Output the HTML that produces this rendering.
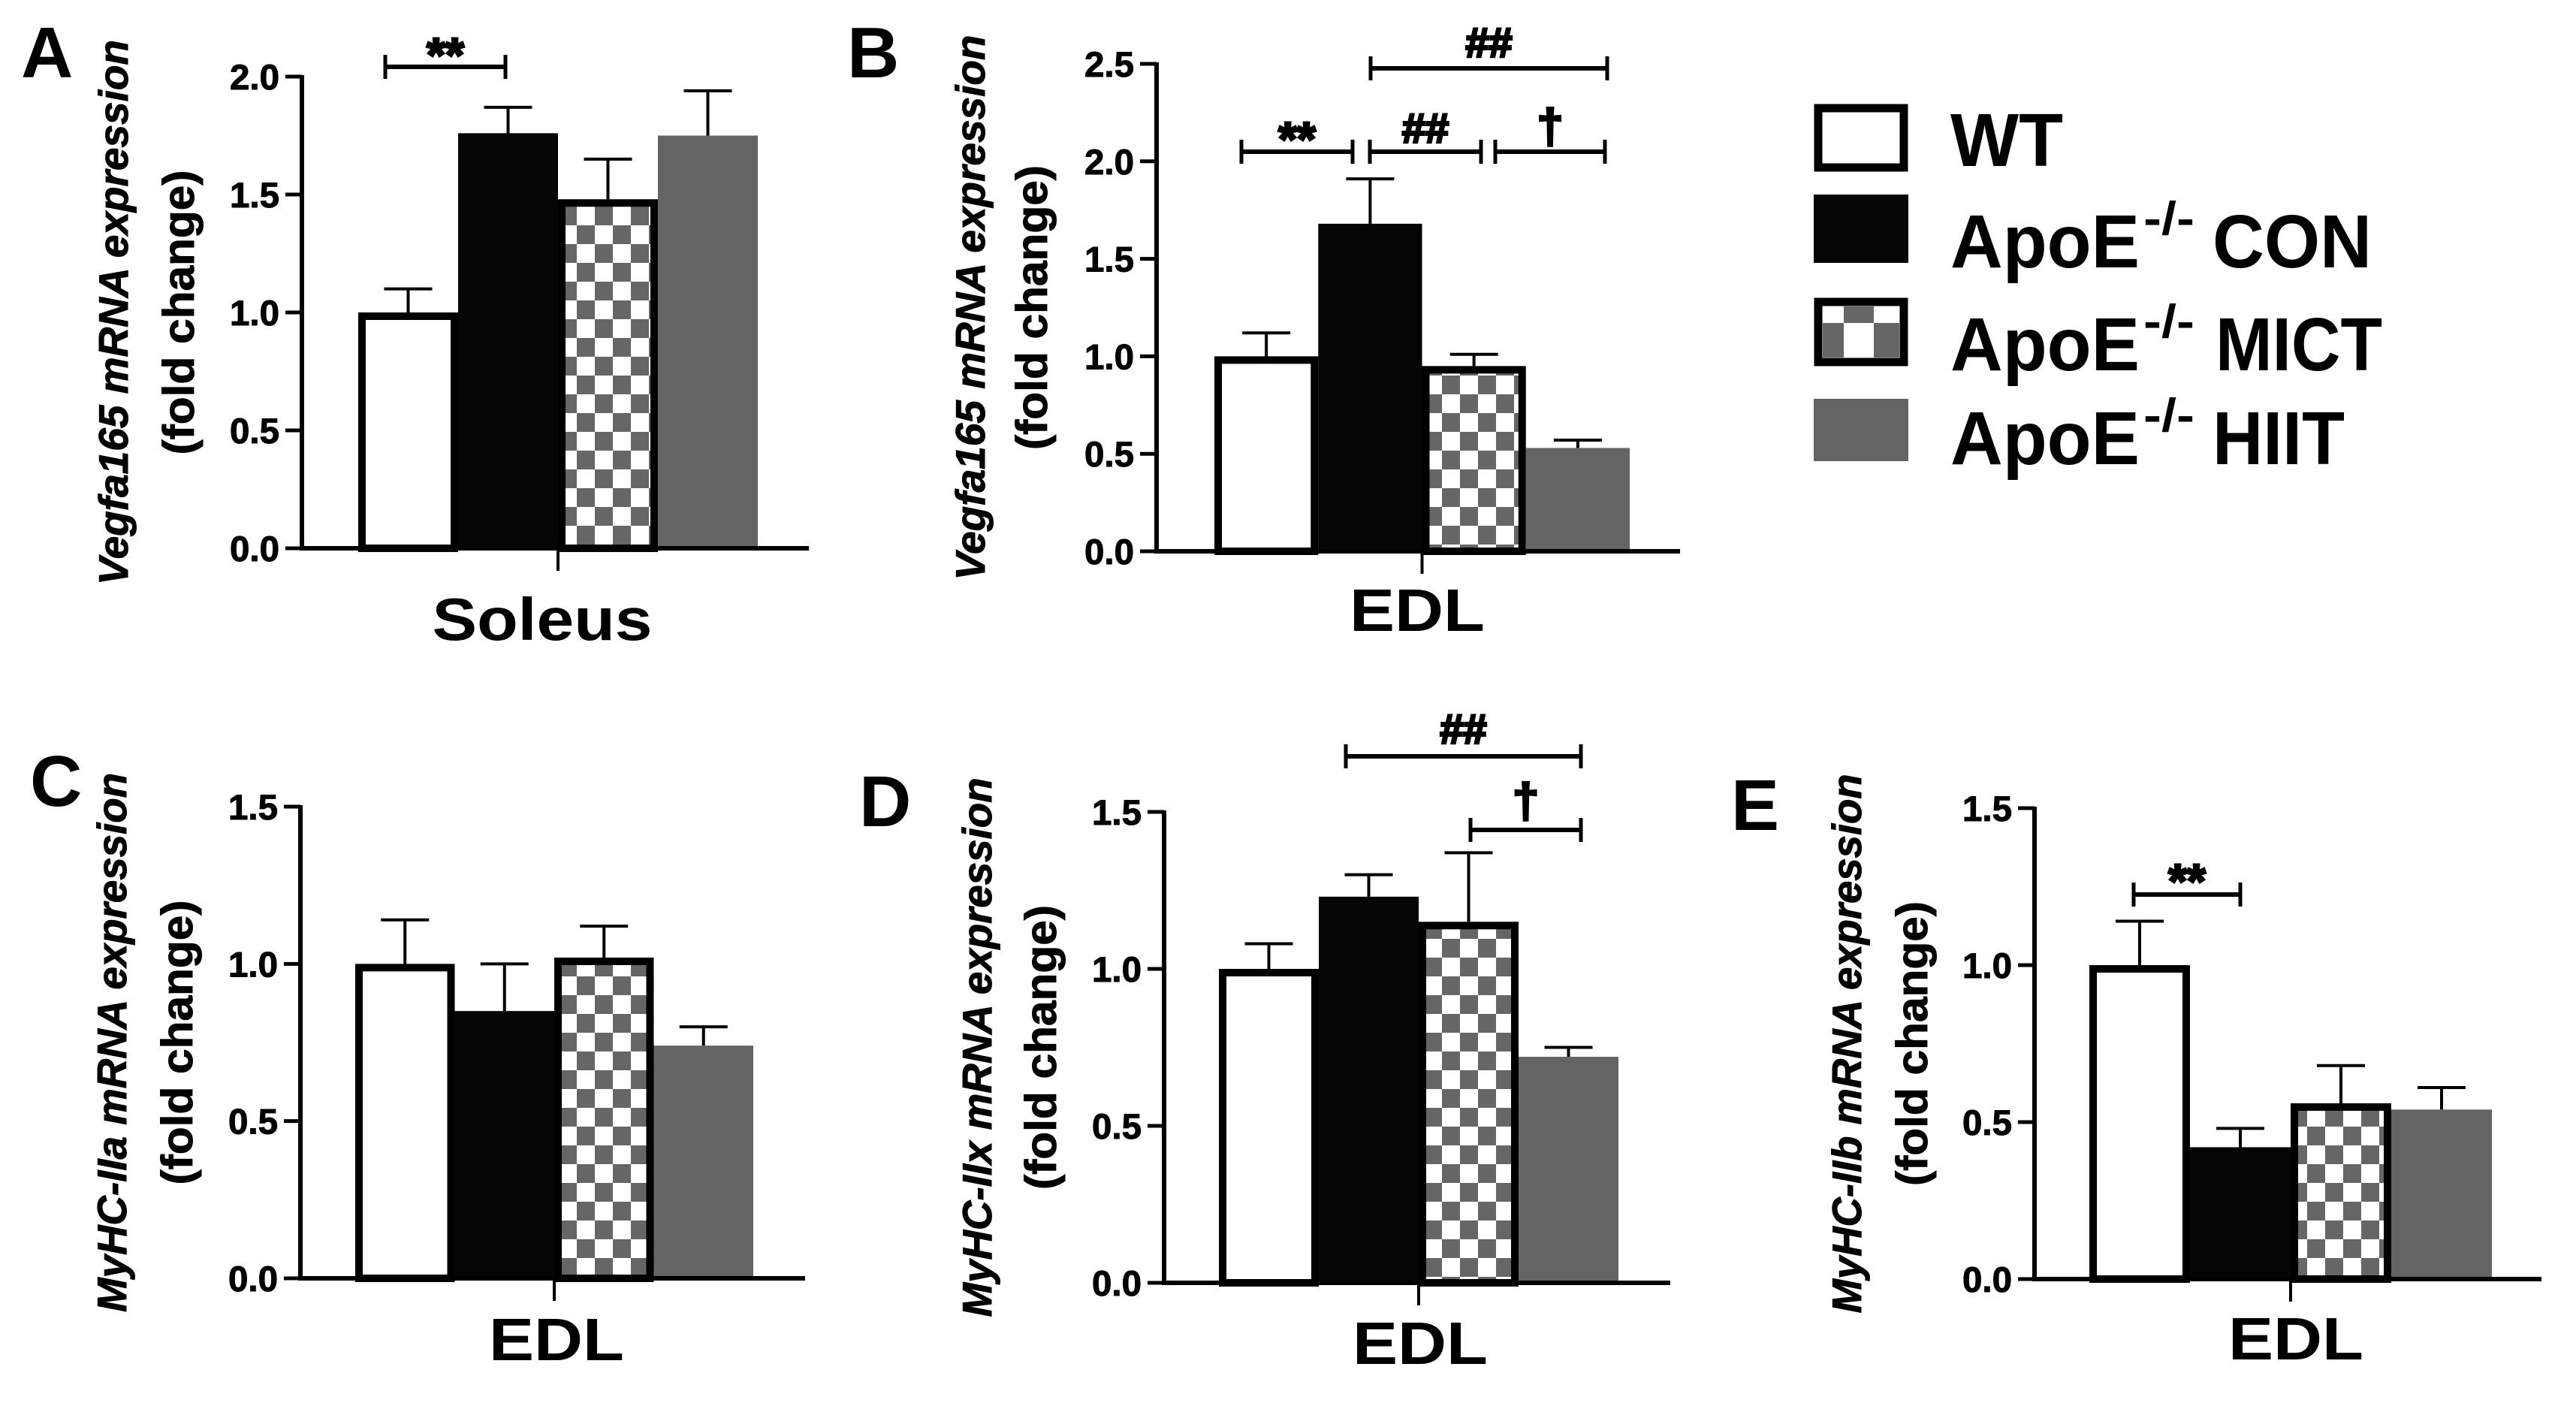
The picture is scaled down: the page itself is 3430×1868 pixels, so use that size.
<!DOCTYPE html>
<html><head><meta charset="utf-8">
<style>
html,body{margin:0;padding:0;background:#fff;}
svg{display:block;}
text{font-family:"Liberation Sans",Arial,sans-serif;font-weight:bold;fill:#000;}
</style></head>
<body>
<svg id="fig" width="3430" height="1868" viewBox="0 0 3430 1868" xmlns="http://www.w3.org/2000/svg">
<defs>
<pattern id="chk" patternUnits="userSpaceOnUse" width="48" height="50">
<rect width="48" height="50" fill="#fff"/>
<rect x="0" y="0" width="24" height="25" fill="#666"/>
<rect x="24" y="25" width="24" height="25" fill="#666"/>
</pattern>
</defs>
<g id="legend">
<g>
<rect x="2421" y="144" width="114" height="79" fill="#fff" stroke="#000" stroke-width="11"/>
<text x="2597" y="221" font-size="100" textLength="150" lengthAdjust="spacingAndGlyphs">WT</text></g>
<g>
<rect x="2415" y="259" width="126" height="91" fill="#050505"/>
<text x="2597" y="356" font-size="100" textLength="252" lengthAdjust="spacingAndGlyphs">ApoE</text>
<text x="2854" y="312" font-size="62" textLength="68" lengthAdjust="spacingAndGlyphs">-/-</text>
<text x="2946" y="356" font-size="100" textLength="212" lengthAdjust="spacingAndGlyphs">CON</text></g>
<g>
<rect x="2421" y="402" width="114" height="80" fill="#fff" stroke="#000" stroke-width="11"/>
<rect x="2455" y="408" width="40" height="22" fill="#666"/>
<rect x="2427" y="430" width="28" height="46" fill="#666"/>
<rect x="2495" y="430" width="34" height="46" fill="#666"/>
<text x="2597" y="493" font-size="100" textLength="252" lengthAdjust="spacingAndGlyphs">ApoE</text>
<text x="2854" y="449" font-size="62" textLength="68" lengthAdjust="spacingAndGlyphs">-/-</text>
<text x="2950" y="493" font-size="100" textLength="222" lengthAdjust="spacingAndGlyphs">MICT</text></g>
<g>
<rect x="2415" y="531" width="126" height="83" fill="#646464"/>
<text x="2597" y="618" font-size="100" textLength="252" lengthAdjust="spacingAndGlyphs">ApoE</text>
<text x="2854" y="574" font-size="62" textLength="68" lengthAdjust="spacingAndGlyphs">-/-</text>
<text x="2946" y="618" font-size="100" textLength="176" lengthAdjust="spacingAndGlyphs">HIIT</text></g>
</g>
</svg>
<script>
// ---- data ----
const categories = ['WT', 'ApoE-/- CON', 'ApoE-/- MICT', 'ApoE-/- HIIT'];
const aMeans = [1.0, 1.76, 1.48, 1.75];
const aErrs  = [0.10, 0.11, 0.17, 0.19];
const aTicks = ['0.0', '0.5', '1.0', '1.5', '2.0'];
const bMeans = [1.0, 1.68, 0.95, 0.53];
const bErrs  = [0.12, 0.23, 0.06, 0.04];
const bTicks = ['0.0', '0.5', '1.0', '1.5', '2.0', '2.5'];
const cMeans = [1.0, 0.85, 1.02, 0.74];
const cErrs  = [0.14, 0.15, 0.10, 0.06];
const cTicks = ['0.0', '0.5', '1.0', '1.5'];
const dMeans = [1.0, 1.23, 1.15, 0.72];
const dErrs  = [0.08, 0.07, 0.22, 0.03];
const dTicks = ['0.0', '0.5', '1.0', '1.5'];
const eMeans = [1.0, 0.42, 0.56, 0.54];
const eErrs  = [0.14, 0.06, 0.12, 0.07];
const eTicks = ['0.0', '0.5', '1.0', '1.5'];

const NS = 'http://www.w3.org/2000/svg';
const svg = document.getElementById('fig');
function mk(tag, attrs, parent, txt) {
  const el = document.createElementNS(NS, tag);
  for (const k in attrs) el.setAttribute(k, attrs[k]);
  if (txt !== undefined) el.textContent = txt;
  (parent || svg).appendChild(el);
  return el;
}

const panels = [
  {id:'a', letter:'A', lx:28, ly:103, means:aMeans, errs:aErrs, ticks:aTicks, ax:402, y0:730, yTop:102, bx0:477, bx1:1009, xEnd:1077,
   t1:['Vegfa165', ' mRNA expression'], t1x:170, t2x:258, t1len:726, t2len:379, xlab:'Soleus', xlabX:722, xlabY:852, xlabLen:293,
   sig:[{x1:513,x2:673,y:89,s:'**',sy:95,fs:64}]},
  {id:'b', letter:'B', lx:1128, ly:103, means:bMeans, errs:bErrs, ticks:bTicks, ax:1540, y0:734, yTop:85, bx0:1617, bx1:2170, xEnd:2237,
   t1:['Vegfa165', ' mRNA expression'], t1x:1311, t2x:1394, t1len:726, t2len:379, xlab:'EDL', xlabX:1887, xlabY:840, xlabLen:180,
   sig:[{x1:1825,x2:2140,y:91,s:'##',sy:76,fs:56},{x1:1653,x2:1801,y:202,s:'**',sy:207,fs:64},{x1:1824,x2:1972,y:202,s:'##',sy:190,fs:56},{x1:1991,x2:2137,y:202,s:'†',sy:190,fs:64}]},
  {id:'c', letter:'C', lx:40, ly:1073, means:cMeans, errs:cErrs, ticks:cTicks, ax:400, y0:1702, yTop:1074, bx0:473, bx1:1003, xEnd:1072,
   t1:['MyHC-IIa', ' mRNA expression'], t1x:168, t2x:256, t1len:718, t2len:379, xlab:'EDL', xlabX:741, xlabY:1811, xlabLen:180,
   sig:[]},
  {id:'d', letter:'D', lx:1144, ly:1100, means:dMeans, errs:dErrs, ticks:dTicks, ax:1550, y0:1708, yTop:1081, bx0:1623, bx1:2155, xEnd:2224,
   t1:['MyHC-IIx', ' mRNA expression'], t1x:1320, t2x:1406, t1len:718, t2len:379, xlab:'EDL', xlabX:1891, xlabY:1816, xlabLen:180,
   sig:[{x1:1792,x2:2105,y:1007,s:'##',sy:990,fs:56},{x1:1958,x2:2105,y:1105,s:'†',sy:1088,fs:64}]},
  {id:'e', letter:'E', lx:2305, ly:1105, means:eMeans, errs:eErrs, ticks:eTicks, ax:2709, y0:1703, yTop:1076, bx0:2782, bx1:3318, xEnd:3384,
   t1:['MyHC-IIb', ' mRNA expression'], t1x:2478, t2x:2566, t1len:718, t2len:379, xlab:'EDL', xlabX:3057, xlabY:1810, xlabLen:180,
   sig:[{x1:2841,x2:2983,y:1191,s:'**',sy:1195,fs:64}]}
];
const fills = ['#fff', '#050505', 'url(#chk)', '#646464'];
const bordered = [true, false, true, false];

panels.forEach(p => {
  const g = mk('g', {});
  
  
  const maxV = parseFloat(p.ticks[p.ticks.length - 1]);
  const yS = v => p.y0 - (v / maxV) * (p.y0 - p.yTop);
  const bw = (p.bx1 - p.bx0) / p.means.length;
  const xS = i => p.bx0 + i * bw;

  const L = mk('text', {x:p.lx, y:p.ly, 'font-size':96}, g, p.letter);
  
  

  p.means.forEach((m, i) => {
    const x = xS(i), yt = yS(m);
    const e = mk('line', {x1:x + bw/2, x2:x + bw/2, y1:yt, y2:yS(m + p.errs[i]), stroke:'#000', 'stroke-width':4}, g);
    
    
    const c = mk('line', {x1:x + bw/2 - 32, x2:x + bw/2 + 32, y1:yS(m + p.errs[i]), y2:yS(m + p.errs[i]), stroke:'#000', 'stroke-width':4}, g);
    
    
    let r;
    if (bordered[i]) {
      r = mk('rect', {x:x + 5, y:yt + 5, width:bw - 10, height:p.y0 - yt - 5, fill:fills[i], stroke:'#000', 'stroke-width':10}, g);
    } else {
      r = mk('rect', {x:x, y:yt, width:bw, height:p.y0 - yt, fill:fills[i]}, g);
    }
    
    
  });

  const ya = mk('line', {x1:p.ax, x2:p.ax, y1:p.yTop - 2, y2:p.y0 + 3, stroke:'#000', 'stroke-width':6}, g);
  
  
  const xa = mk('line', {x1:p.ax - 3, x2:p.xEnd, y1:p.y0, y2:p.y0, stroke:'#000', 'stroke-width':6}, g);
  
  
  const ct = mk('line', {x1:(p.bx0 + p.bx1)/2, x2:(p.bx0 + p.bx1)/2, y1:p.y0, y2:p.y0 + 30, stroke:'#000', 'stroke-width':4}, g);
  
  
  p.ticks.forEach(t => {
    const y = yS(parseFloat(t));
    const tk = mk('line', {x1:p.ax - 22, x2:p.ax, y1:y, y2:y, stroke:'#000', 'stroke-width':5}, g);
    
    
    const tl = mk('text', {x:p.ax - 30, y:y + 17, 'font-size':47, 'text-anchor':'end', textLength:66, lengthAdjust:'spacingAndGlyphs', stroke:'#000', 'stroke-width':1}, g, t);
    
    
  });

  const cy = (p.y0 + p.yTop) / 2;
  const t1 = mk('text', {x:p.t1x, y:cy, 'font-size':55, 'text-anchor':'middle', transform:'rotate(-90 ' + p.t1x + ' ' + cy + ')', textLength:p.t1len, lengthAdjust:'spacingAndGlyphs', 'font-style':'italic', stroke:'#000', 'stroke-width':1}, g);
  
  
  mk('tspan', {}, t1, p.t1[0]);
  mk('tspan', {}, t1, p.t1[1]);
  const t2 = mk('text', {x:p.t2x, y:cy, 'font-size':58, 'text-anchor':'middle', transform:'rotate(-90 ' + p.t2x + ' ' + cy + ')', textLength:p.t2len, lengthAdjust:'spacingAndGlyphs', stroke:'#000', 'stroke-width':1}, g, '(fold change)');
  
  

  const xl = mk('text', {x:p.xlabX, y:p.xlabY, 'font-size':80, 'text-anchor':'middle', textLength:p.xlabLen, lengthAdjust:'spacingAndGlyphs'}, g, p.xlab);
  
  

  p.sig.forEach(s => {
    const sg = mk('g', {}, g);
    
    
    mk('line', {x1:s.x1, x2:s.x2, y1:s.y, y2:s.y, stroke:'#000', 'stroke-width':6}, sg);
    mk('line', {x1:s.x1, x2:s.x1, y1:s.y - 16, y2:s.y + 16, stroke:'#000', 'stroke-width':5}, sg);
    mk('line', {x1:s.x2, x2:s.x2, y1:s.y - 16, y2:s.y + 16, stroke:'#000', 'stroke-width':5}, sg);
    mk('text', {x:(s.x1 + s.x2)/2, y:s.sy, 'font-size':s.fs, 'text-anchor':'middle', stroke:'#000', 'stroke-width':3}, sg, s.s);
  });
});
</script>
</body></html>
